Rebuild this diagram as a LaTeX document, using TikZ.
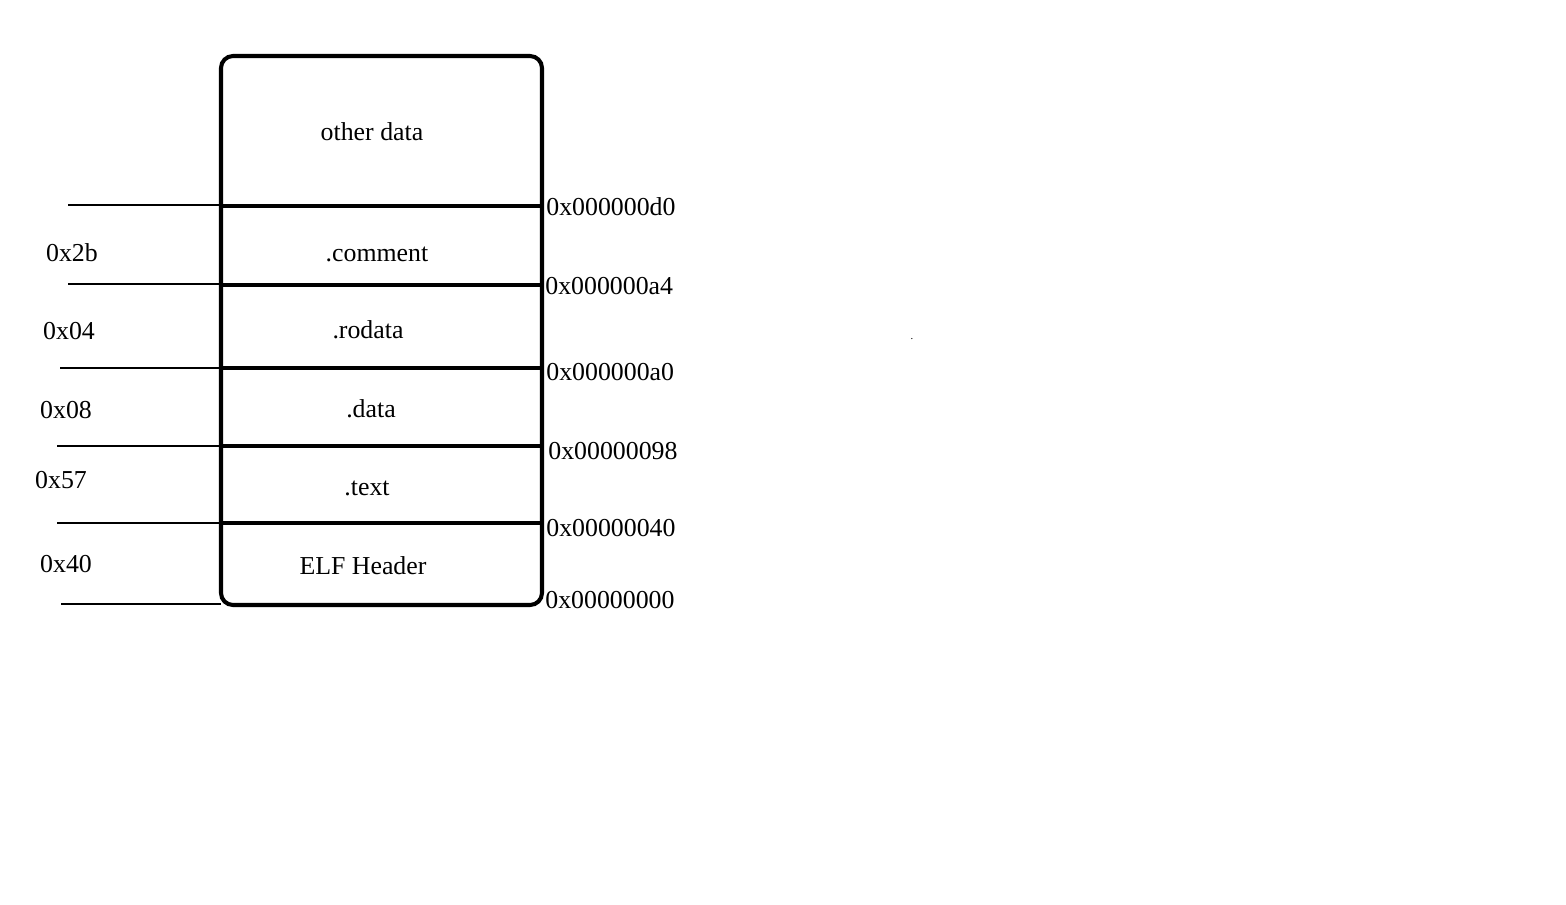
\documentclass[tikz,border=0pt]{standalone}
\usepackage{fontspec}
\setmainfont{Liberation Serif}
\usetikzlibrary{positioning}

\begin{document}
\begin{tikzpicture}[
  x=0.02cm, y=-0.02cm,
  frame/.style={line width=2.3pt, rounded corners=0.24cm},
  divider/.style={line width=2.3pt},
  tick/.style={line width=0.6pt},
  sect/.style={font=\fontsize{14.7}{17}\selectfont, inner sep=0pt},
  addr/.style={font=\fontsize{14.7}{17}\selectfont, inner sep=0pt, anchor=west},
  size/.style={font=\fontsize{14.7}{17}\selectfont, inner sep=0pt}
]
  \useasboundingbox (0,0) rectangle (1566,904);

  % outer frame of the file
  \draw[frame] (221,56) rectangle (542,605);

  % section borders with their offsets
  \foreach \y/\n in {206/d0, 285/a4, 368/a0, 446/98, 523/40} {
    \coordinate (L\n) at (221,\y);
    \coordinate (R\n) at (542,\y);
    \draw[divider] (L\n) -- (R\n);
  }
  \coordinate (L00) at (221,604);

  % thin marks on the left
  \coordinate (Md0) at (68,205);
  \coordinate (Ma4) at (68,284);
  \coordinate (Ma0) at (60,368);
  \coordinate (M98) at (57,446);
  \coordinate (M40) at (57,523);
  \coordinate (M00) at (61,604);
  \draw[tick] (Md0) -- (Ld0 |- Md0);
  \draw[tick] (Ma4) -- (La4 |- Ma4);
  \draw[tick] (Ma0) -- (La0);
  \draw[tick] (M98) -- (L98);
  \draw[tick] (M40) -- (L40);
  \draw[tick] (M00) -- (L00);

  % section names
  \node[sect] (other) at (372,132) {other data};
  \node[sect] (comment) at (377,254) {.comment};
  \node[sect] (rodata) at (368,330) {.rodata};
  \node[sect] (data) at (371,409) {.data};
  \node[sect] (text) at (367,488) {.text};
  \node[sect] (elf) at (363,566) {ELF Header};

  % sizes
  \node[size] (szcomment) at (72,253) {0x2b};
  \node[size] (szrodata) at (69,331) {0x04};
  \node[size] (szdata) at (66,410) {0x08};
  \node[size] (sztext) at (61,480) {0x57};
  \node[size] (szelf) at (66,564) {0x40};

  % offsets
  \node[addr] (ad0) at (546,207) {0x000000d0};
  \node[addr] (aa4) at (545,286) {0x000000a4};
  \node[addr] (aa0) at (546,372) {0x000000a0};
  \node[addr] (a98) at (548,451) {0x00000098};
  \node[addr] (a40) at (546,528) {0x00000040};
  \node[addr] (a00) at (545,600) {0x00000000};

  \node[font=\fontsize{6}{6}\selectfont, inner sep=0pt] (dot) at (912,339) {.};
\end{tikzpicture}
\end{document}
